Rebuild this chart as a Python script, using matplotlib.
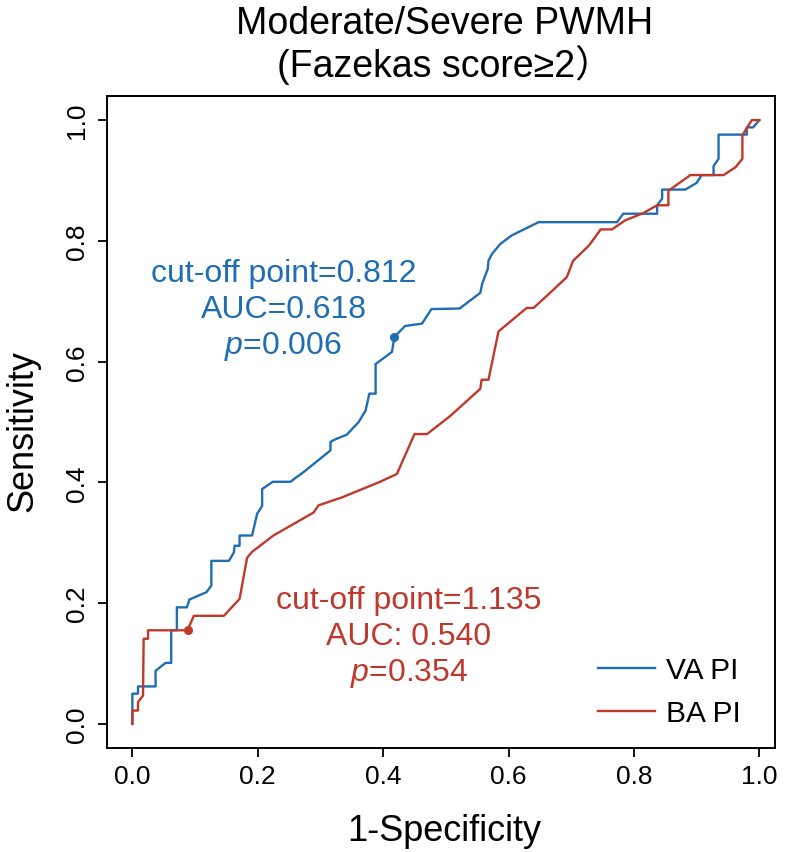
import matplotlib
matplotlib.use("Agg")
import matplotlib.pyplot as plt

plt.rcParams['font.family'] = ['Liberation Sans', 'Noto Sans CJK SC', 'DejaVu Sans']
plt.rcParams['mathtext.fontset'] = 'custom'
plt.rcParams['mathtext.rm'] = 'Liberation Sans'
plt.rcParams['mathtext.it'] = 'Liberation Sans:italic'

# ROC curve of VA PI (1-specificity, sensitivity)
fpr_va = [0, 0, 0.009, 0.009, 0.037, 0.037, 0.053, 0.062, 0.062, 0.071, 0.071, 0.087,
          0.091, 0.118, 0.126, 0.126, 0.154, 0.162, 0.163, 0.171, 0.171, 0.191, 0.199,
          0.207, 0.207, 0.224, 0.252, 0.273, 0.303, 0.316, 0.316, 0.323, 0.342, 0.361,
          0.372, 0.378, 0.388, 0.388, 0.414, 0.418, 0.435, 0.462, 0.477, 0.522, 0.555,
          0.558, 0.567, 0.568, 0.574, 0.587, 0.605, 0.648, 0.773, 0.783, 0.837, 0.837,
          0.845, 0.845, 0.882, 0.900, 0.908, 0.927, 0.927, 0.935, 0.935, 0.980, 0.980,
          0.990, 1.0]
tpr_va = [0, 0.050, 0.050, 0.062, 0.062, 0.088, 0.101, 0.101, 0.155, 0.155, 0.193, 0.193,
          0.206, 0.218, 0.229, 0.270, 0.270, 0.284, 0.295, 0.295, 0.312, 0.312, 0.348,
          0.361, 0.389, 0.401, 0.401, 0.417, 0.442, 0.453, 0.467, 0.471, 0.479, 0.500,
          0.519, 0.547, 0.547, 0.596, 0.616, 0.641, 0.659, 0.663, 0.687, 0.688, 0.714,
          0.729, 0.754, 0.767, 0.779, 0.795, 0.809, 0.831, 0.831, 0.845, 0.845, 0.859,
          0.870, 0.885, 0.885, 0.896, 0.909, 0.909, 0.924, 0.936, 0.976, 0.976, 0.988,
          0.988, 1.0]

# ROC curve of BA PI
fpr_ba = [0, 0, 0.009, 0.009, 0.017, 0.018, 0.025, 0.025, 0.088, 0.098, 0.146, 0.171,
          0.183, 0.191, 0.225, 0.289, 0.297, 0.334, 0.393, 0.422, 0.450, 0.470, 0.507,
          0.555, 0.557, 0.568, 0.584, 0.629, 0.640, 0.659, 0.693, 0.703, 0.728, 0.747,
          0.765, 0.786, 0.815, 0.837, 0.855, 0.855, 0.890, 0.943, 0.962, 0.973, 0.973,
          0.988, 1.0]
tpr_ba = [0, 0.022, 0.022, 0.036, 0.047, 0.141, 0.141, 0.155, 0.155, 0.179, 0.179, 0.207,
          0.275, 0.285, 0.312, 0.350, 0.362, 0.375, 0.400, 0.414, 0.480, 0.480, 0.510,
          0.555, 0.570, 0.570, 0.650, 0.689, 0.689, 0.707, 0.740, 0.767, 0.792, 0.819,
          0.819, 0.834, 0.846, 0.859, 0.859, 0.883, 0.909, 0.909, 0.922, 0.936, 0.975,
          1.0, 1.0]

# cut-off points on each curve
cut_va = (0.417, 0.641)
cut_ba = (0.089, 0.156)

labels = ['VA PI', 'BA PI']
text_va = ['cut-off point=0.812', 'AUC=0.618', r'$\mathit{p}$=0.006']
text_ba = ['cut-off point=1.135', 'AUC: 0.540', r'$\mathit{p}$=0.354']
ticks = [0.0, 0.2, 0.4, 0.6, 0.8, 1.0]

blue = '#1f6db3'
red = '#c0382b'

fig = plt.figure(figsize=(7.9, 8.53), dpi=100)
ax = fig.add_axes([0.1358, 0.1219, 0.8452, 0.7644])

ax.plot(fpr_va, tpr_va, color=blue, lw=1.7, label=labels[0])
ax.plot(fpr_ba, tpr_ba, color=red, lw=1.7, label=labels[1])
ax.plot(*cut_va, 'o', color=blue, ms=5.5)
ax.plot(*cut_ba, 'o', color=red, ms=5.5)

ax.set_xlim(-0.04, 1.025)
ax.set_ylim(-0.04, 1.04)
ax.set_xticks(ticks)
ax.set_yticks(ticks)
ax.set_xticklabels([f'{t:.1f}' for t in ticks])
ax.set_yticklabels([f'{t:.1f}' for t in ticks])
ax.tick_params(axis='both', labelsize=19, length=6.5, width=1.3, direction='out')
ax.tick_params(axis='x', pad=5)
ax.tick_params(axis='y', pad=7, labelrotation=90)
for lab in ax.get_yticklabels():
    lab.set_va('center')
for sp in ax.spines.values():
    sp.set_linewidth(1.4)

ax.set_xlabel('1-Specificity', fontsize=26)
ax.xaxis.set_label_coords(0.505, -0.126)
ax.xaxis.label.set_va('center')
ax.set_ylabel('Sensitivity', fontsize=26)
ax.yaxis.set_label_coords(-0.1266, 0.488)
ax.yaxis.label.set_va('center')

# two-line title
ax.text(0.505, 1.0968, 'Moderate/Severe PWMH', transform=ax.transAxes,
        ha='center', va='baseline', fontsize=27)
ax.text(0.505, 1.0313, '(Fazekas score≥2）', transform=ax.transAxes,
        ha='center', va='baseline', fontsize=27)

for i, s in enumerate(text_va):
    ax.text(0.241, 0.733 - 0.0595 * i, s, color=blue, fontsize=23, ha='center', va='baseline')
for i, s in enumerate(text_ba):
    ax.text(0.441, 0.192 - 0.0595 * i, s, color=red, fontsize=23, ha='center', va='baseline')

ax.legend(loc='center left', bbox_to_anchor=(0.7354, 0.0862), frameon=False,
          fontsize=21.5, handlelength=1.9, handletextpad=0.37, labelspacing=0.5,
          borderpad=0, borderaxespad=0)

fig.savefig('out.png', dpi=100)
